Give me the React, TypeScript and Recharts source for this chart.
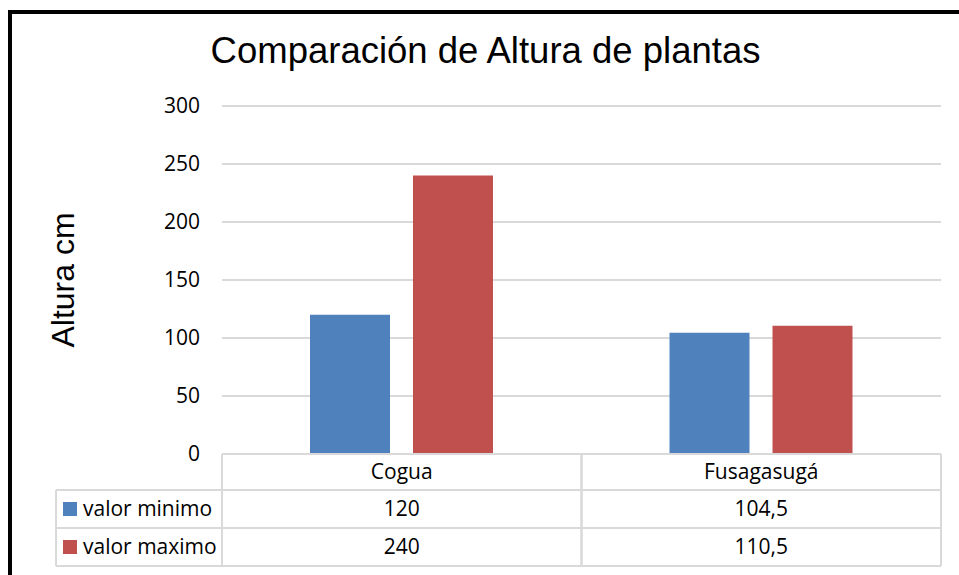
import { Bar, BarChart, CartesianGrid, XAxis, YAxis } from 'recharts';

const categories = ['Cogua', 'Fusagasugá'];
const valorMinimo = [120, 104.5];
const valorMaximo = [240, 110.5];
const seriesNames = ['valor minimo', 'valor maximo'];
const yTicks = [0, 50, 100, 150, 200, 250, 300];

const data = categories.map((name, i) => ({ name, min: valorMinimo[i], max: valorMaximo[i] }));

const BLUE = '#4f81bd';
const RED = '#c0504d';
const GRID = '#d9d9d9';
const FONT = '"Open Sans", Lato, sans-serif';

// plot area in chart coords
const PLOT_LEFT = 210;
const PLOT_W = 719;
const colW = PLOT_W / categories.length;
const rows = [440, 476, 514, 552];

const fmt = (v: number) => String(v).replace('.', ',');

function TableTick(props: any) {
    const { x, payload, index } = props;
    const left = x - colW / 2;
    const right = x + colW / 2;
    const cellText = (txt: string, cy: number, cx: number, anchor = 'middle') => (
        <text x={cx} y={cy} dy="0.355em" textAnchor={anchor} fill="#000" style={{ fontFamily: FONT, fontSize: 21 }}>{txt}</text>
    );
    const values = [valorMinimo[index], valorMaximo[index]];
    return (
        <g>
            <line x1={left} x2={right} y1={rows[1]} y2={rows[1]} stroke={GRID} strokeWidth={2} />
            <line x1={left} x2={right} y1={rows[2]} y2={rows[2]} stroke={GRID} strokeWidth={2} />
            <line x1={left} x2={right} y1={rows[3]} y2={rows[3]} stroke={GRID} strokeWidth={2} />
            <line x1={left} x2={left} y1={rows[0]} y2={rows[3]} stroke={GRID} strokeWidth={2} />
            <line x1={right} x2={right} y1={rows[0]} y2={rows[3]} stroke={GRID} strokeWidth={2} />
            {cellText(payload.value, (rows[0] + rows[1]) / 2, x)}
            {cellText(fmt(values[0]), (rows[1] + rows[2]) / 2, x)}
            {cellText(fmt(values[1]), (rows[2] + rows[3]) / 2, x)}
            {index === 0 && (
                <g>
                    <line x1={44} x2={PLOT_LEFT} y1={rows[1]} y2={rows[1]} stroke={GRID} strokeWidth={2} />
                    <line x1={44} x2={PLOT_LEFT} y1={rows[2]} y2={rows[2]} stroke={GRID} strokeWidth={2} />
                    <line x1={44} x2={PLOT_LEFT} y1={rows[3]} y2={rows[3]} stroke={GRID} strokeWidth={2} />
                    <line x1={44} x2={44} y1={rows[1]} y2={rows[3]} stroke={GRID} strokeWidth={2} />
                    {seriesNames.map((s, i) => {
                        const cy = (rows[i + 1] + rows[i + 2]) / 2;
                        return (
                            <g key={s}>
                                <rect x={51} y={cy - 7} width={14} height={14} fill={i === 0 ? BLUE : RED} />
                                {cellText(s, cy, 71, 'start')}
                            </g>
                        );
                    })}
                </g>
            )}
        </g>
    );
}

function AxisTitle() {
    return (
        <text x={62} y={266} transform="rotate(-90 62 266)" textAnchor="middle" fill="#000"
            style={{ fontFamily: '"Liberation Sans", Arial, sans-serif', fontSize: 32 }}>
            Altura cm
        </text>
    );
}

export default function App() {
    return (
        <div style={{
            position: 'absolute', left: 8, top: 10, width: 951, height: 565, boxSizing: 'border-box',
            borderTop: '4px solid #000', borderLeft: '4px solid #000', background: '#fff', overflow: 'hidden'
        }}>
            <div style={{
                position: 'absolute', left: 0, top: 17, width: 947, textAlign: 'center',
                fontFamily: '"Liberation Sans", Arial, sans-serif', fontSize: 36.5, lineHeight: '40px', color: '#000'
            }}>
                Comparación de Altura de plantas
            </div>
            <BarChart width={947} height={561} data={data} barSize={80} barGap={23}
                margin={{ top: 92, right: 18, bottom: 0, left: 0 }}>
                <CartesianGrid vertical={false} stroke={GRID} strokeWidth={2} />
                <XAxis dataKey="name" height={121} tickSize={0} tickMargin={0} interval={0}
                    axisLine={{ stroke: GRID, strokeWidth: 2 }} tickLine={false} tick={(p: any) => <TableTick {...p} />} />
                <YAxis width={210} domain={[0, 300]} ticks={yTicks} tickSize={0} tickMargin={22}
                    axisLine={false} tickLine={false}
                    tick={{ fill: '#000', fontFamily: FONT, fontSize: 21 }}
                    label={{ content: () => <AxisTitle /> }} />
                <Bar dataKey="min" fill={BLUE} isAnimationActive={false} />
                <Bar dataKey="max" fill={RED} isAnimationActive={false} />
            </BarChart>
        </div>
    );
}
